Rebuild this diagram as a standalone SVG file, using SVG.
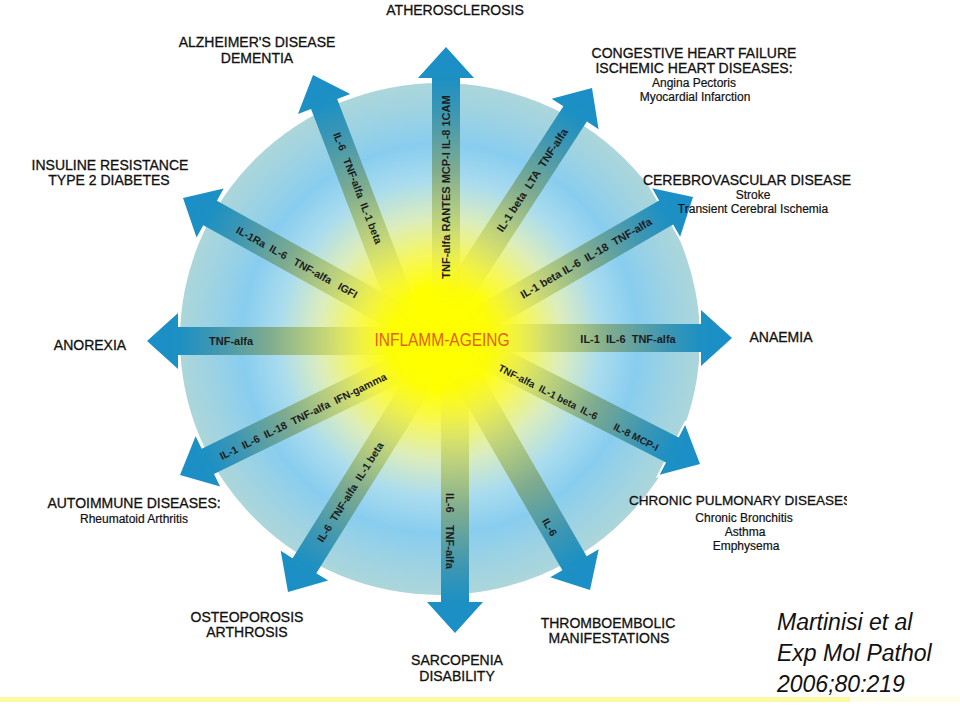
<svg xmlns="http://www.w3.org/2000/svg" xmlns:xlink="http://www.w3.org/1999/xlink" width="960" height="706" viewBox="0 0 960 706">
<style>
.lab{font-family:"Liberation Sans",Arial,Helvetica,sans-serif;font-size:14px;fill:#111;stroke:#111;stroke-width:0.3;text-anchor:middle}
.sub{font-family:"Liberation Sans",Arial,Helvetica,sans-serif;font-size:12px;fill:#111;stroke:#111;stroke-width:0.2;text-anchor:middle}
.cy{font-family:"Liberation Sans",Arial,Helvetica,sans-serif;font-size:10.5px;font-weight:bold;fill:#1c1c1c;text-anchor:middle;dominant-baseline:central}
.cit{font-family:"Liberation Sans",Arial,Helvetica,sans-serif;font-size:23px;font-style:italic;fill:#111}
</style>
<defs>
<radialGradient id="disc" cx="0.5" cy="0.5" r="0.5">
<stop offset="0" stop-color="#ffff00"/>
<stop offset="0.2" stop-color="#ffff00"/>
<stop offset="0.33" stop-color="#f6f75a"/>
<stop offset="0.47" stop-color="#dcedbd"/>
<stop offset="0.62" stop-color="#aadcee"/>
<stop offset="0.76" stop-color="#88cdef"/>
<stop offset="0.9" stop-color="#9fd3e2"/>
<stop offset="1" stop-color="#acd6da"/>
</radialGradient>
<linearGradient id="shaft" x1="0" y1="0" x2="1" y2="0">
<stop offset="0" stop-color="#ffff00" stop-opacity="0"/>
<stop offset="0.16" stop-color="#f2f030" stop-opacity="0.35"/>
<stop offset="0.33" stop-color="#c4d46c" stop-opacity="0.85"/>
<stop offset="0.55" stop-color="#7eab90"/>
<stop offset="0.75" stop-color="#3f97b2"/>
<stop offset="0.88" stop-color="#1d90c3"/>
<stop offset="1" stop-color="#1a8fc8"/>
</linearGradient>
<path id="arw" d="M-270,-14 L-31,-14 L-31,-28 L0,0 L-31,28 L-31,14 L-270,14 Z" fill="url(#shaft)"/>
<path id="hd" d="M-31,-14 L-31,-28 L0,0 L-31,28 L-31,14" fill="none" stroke="#ffffff" stroke-width="4" stroke-linejoin="miter"/>
<clipPath id="clipR"><rect x="0" y="0" width="847" height="706"/></clipPath>
</defs>
<rect x="0" y="0" width="960" height="706" fill="#ffffff"/>
<g id="center">
<ellipse cx="440" cy="339" rx="260" ry="256" fill="url(#disc)"/>
</g>
<g id="connectors">
<g transform="translate(446,47) rotate(-90)"><use href="#hd"/><use href="#arw"/></g>
<g transform="translate(313,75) rotate(-111)"><use href="#hd"/><use href="#arw"/></g>
<g transform="translate(183,198) rotate(-151)"><use href="#hd"/><use href="#arw"/></g>
<g transform="translate(147,341) rotate(180)"><use href="#hd"/><use href="#arw"/></g>
<g transform="translate(180,475) rotate(154)"><use href="#hd"/><use href="#arw"/></g>
<g transform="translate(288,592) rotate(122)"><use href="#hd"/><use href="#arw"/></g>
<g transform="translate(455,633) rotate(90)"><use href="#hd"/><use href="#arw"/></g>
<g transform="translate(590,590) rotate(60)"><use href="#hd"/><use href="#arw"/></g>
<g transform="translate(700,464) rotate(27)"><use href="#hd"/><use href="#arw"/></g>
<g transform="translate(732,338) rotate(0)"><use href="#hd"/><use href="#arw"/></g>
<g transform="translate(693,197) rotate(-30)"><use href="#hd"/><use href="#arw"/></g>
<g transform="translate(592,88) rotate(-57)"><use href="#hd"/><use href="#arw"/></g>
<text class="cy" xml:space="preserve" transform="translate(446,187) rotate(-90)" style="font-size:11px">TNF-alfa RANTES MCP-I IL-8 1CAM</text>
<text class="cy" xml:space="preserve" transform="translate(358,188) rotate(69)">IL-6   TNF-alfa  IL-1 beta</text>
<text class="cy" xml:space="preserve" transform="translate(297,262) rotate(29)">IL-1Ra  IL-6   TNF-alfa   IGFI</text>
<text class="cy" transform="translate(231,341)" style="font-size:11px">TNF-alfa</text>
<text class="cy" xml:space="preserve" transform="translate(303,416) rotate(-26)">IL-1  IL-6  IL-18  TNF-alfa  IFN-gamma</text>
<text class="cy" xml:space="preserve" transform="translate(350,492) rotate(-58)">IL-6  TNF-alfa  IL-1 beta</text>
<text class="cy" xml:space="preserve" transform="translate(450,531) rotate(90)" style="font-size:11px">IL-6    TNF-alfa</text>
<text class="cy" transform="translate(550,527) rotate(60)">IL-6</text>
<text class="cy" xml:space="preserve" transform="translate(548,392) rotate(27)" style="font-size:10px">TNF-alfa  IL-1 beta  IL-6</text>
<text class="cy" xml:space="preserve" transform="translate(636,437) rotate(27)" style="font-size:10px">IL-8 MCP-I</text>
<text class="cy" xml:space="preserve" transform="translate(628,339)" style="font-size:11px">IL-1  IL-6  TNF-alfa</text>
<text class="cy" xml:space="preserve" transform="translate(586,258) rotate(-30)" style="font-size:11px">IL-1 beta IL-6  IL-18  TNF-alfa</text>
<text class="cy" xml:space="preserve" transform="translate(532,180) rotate(-57)" style="font-size:11px">IL-1 beta  LTA  TNF-alfa</text>
</g>
<g id="core">
<text transform="translate(442,346) scale(1,1.15)" x="0" y="0" style="font-family:'Liberation Sans',Arial,sans-serif;font-size:15.5px;fill:#e4601c;text-anchor:middle">INFLAMM-AGEING</text>
</g>
<g id="atherosclerosis"><text class="lab" x="455" y="15">ATHEROSCLEROSIS</text></g>
<g id="alzheimer"><text class="lab" x="257" y="47">ALZHEIMER'S DISEASE</text><text class="lab" x="257" y="63">DEMENTIA</text></g>
<g id="heart"><text class="lab" x="694" y="58">CONGESTIVE HEART FAILURE</text><text class="lab" x="694" y="73">ISCHEMIC HEART DISEASES:</text><text class="sub" x="694" y="87">Angina Pectoris</text><text class="sub" x="695" y="101">Myocardial Infarction</text></g>
<g id="cerebro"><text class="lab" x="747" y="185">CEREBROVASCULAR DISEASE</text><text class="sub" x="753" y="199">Stroke</text><text class="sub" x="753" y="213">Transient Cerebral Ischemia</text></g>
<g id="insulin"><text class="lab" x="110" y="170">INSULINE RESISTANCE</text><text class="lab" x="109" y="185">TYPE 2 DIABETES</text></g>
<g id="anorexia"><text class="lab" x="90" y="350">ANOREXIA</text></g>
<g id="anaemia"><text class="lab" x="781" y="342">ANAEMIA</text></g>
<g id="pulmonary"><text class="lab" x="629" y="505" clip-path="url(#clipR)" style="text-anchor:start;font-size:13.5px">CHRONIC PULMONARY DISEASES</text><text class="sub" x="744" y="522">Chronic Bronchitis</text><text class="sub" x="745" y="536">Asthma</text><text class="sub" x="746" y="550">Emphysema</text></g>
<g id="thrombo"><text class="lab" x="608" y="628">THROMBOEMBOLIC</text><text class="lab" x="609" y="643">MANIFESTATIONS</text></g>
<g id="sarcopenia"><text class="lab" x="457" y="665">SARCOPENIA</text><text class="lab" x="457" y="681">DISABILITY</text></g>
<g id="osteoporosis"><text class="lab" x="247" y="622">OSTEOPOROSIS</text><text class="lab" x="247" y="637">ARTHROSIS</text></g>
<g id="autoimmune"><text class="lab" x="134" y="508">AUTOIMMUNE DISEASES:</text><text class="sub" x="134" y="523">Rheumatoid Arthritis</text></g>
<g id="citation"><text class="cit" x="777" y="630">Martinisi et al</text><text class="cit" x="777" y="661">Exp Mol Pathol</text><text class="cit" x="777" y="692">2006;80:219</text></g>
<rect x="0" y="697" width="850" height="5" fill="#fdf8a2"/>
<rect x="850" y="697" width="110" height="5" fill="#fffde6"/>
</svg>
